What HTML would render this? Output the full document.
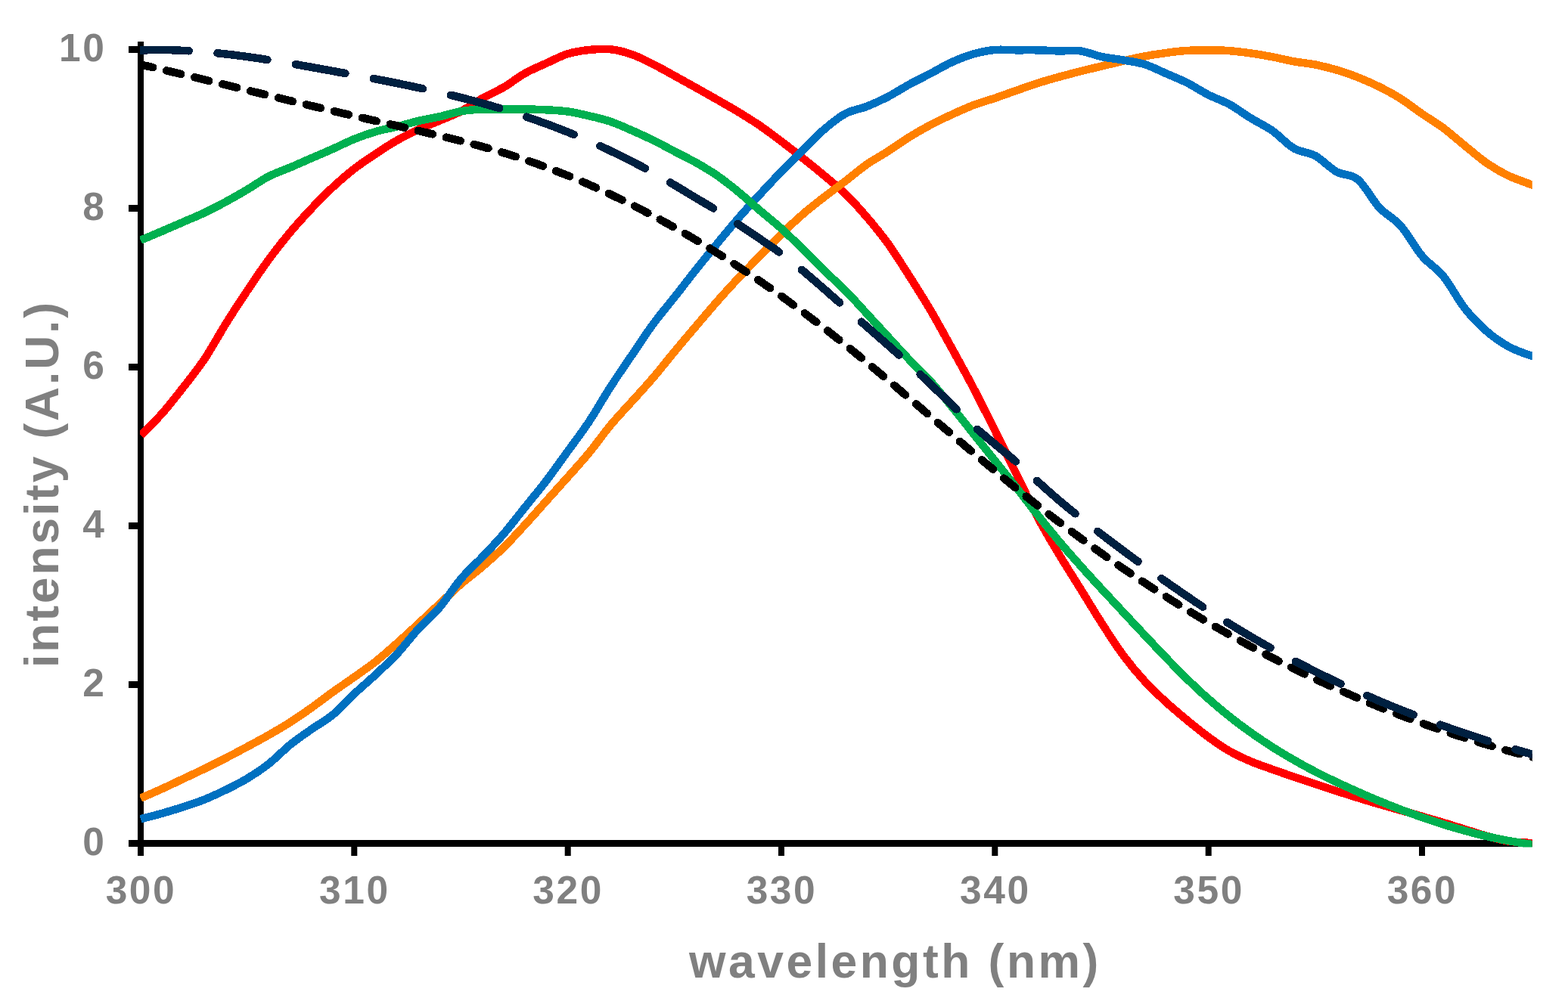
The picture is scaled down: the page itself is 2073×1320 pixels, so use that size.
<!DOCTYPE html>
<html lang="en">
<head>
<meta charset="utf-8">
<title>intensity (A.U.) vs wavelength (nm)</title>
<style>
html,body{margin:0;padding:0;background:#fff;}
body{width:2073px;height:1320px;overflow:hidden;}
svg{display:block;}
text{font-family:"Liberation Sans",sans-serif;font-weight:bold;fill:#808080;}
.tick{font-size:51.5px;letter-spacing:2.6px;}
.lab{font-size:62.4px;letter-spacing:3.5px;}
.c{fill:none;stroke-width:10.5;stroke-linejoin:round;stroke-linecap:butt;}
.d{stroke-linecap:round;}
</style>
</head>
<body>
<svg width="2073" height="1320" viewBox="0 0 2073 1320">
<defs><clipPath id="plot"><rect x="185.0" y="0" width="1840.75" height="1120.5"/></clipPath></defs>
<rect width="2073" height="1320" fill="#ffffff"/>

<g fill="#000000">
<rect x="182" y="55" width="8" height="1077"/>
<rect x="170" y="1111" width="1855.75" height="9"/>
<rect x="170" y="901.0" width="16" height="9"/>
<rect x="170" y="691.0" width="16" height="9"/>
<rect x="170" y="481.0" width="16" height="9"/>
<rect x="170" y="271.0" width="16" height="9"/>
<rect x="170" y="61.0" width="16" height="9"/>
<rect x="464.3" y="1115" width="8" height="17"/>
<rect x="746.7" y="1115" width="8" height="17"/>
<rect x="1029.0" y="1115" width="8" height="17"/>
<rect x="1311.3" y="1115" width="8" height="17"/>
<rect x="1593.7" y="1115" width="8" height="17"/>
<rect x="1876.0" y="1115" width="8" height="17"/>
</g>
<text class="tick" x="140.5" y="1130.5" text-anchor="end">0</text>
<text class="tick" x="140.5" y="920.5" text-anchor="end">2</text>
<text class="tick" x="140.5" y="710.5" text-anchor="end">4</text>
<text class="tick" x="140.5" y="500.5" text-anchor="end">6</text>
<text class="tick" x="140.5" y="290.5" text-anchor="end">8</text>
<text class="tick" x="140.5" y="80.5" text-anchor="end">10</text>
<text class="tick" x="186.5" y="1195" text-anchor="middle">300</text>
<text class="tick" x="468.8" y="1195" text-anchor="middle">310</text>
<text class="tick" x="751.2" y="1195" text-anchor="middle">320</text>
<text class="tick" x="1033.5" y="1195" text-anchor="middle">330</text>
<text class="tick" x="1315.8" y="1195" text-anchor="middle">340</text>
<text class="tick" x="1598.2" y="1195" text-anchor="middle">350</text>
<text class="tick" x="1880.5" y="1195" text-anchor="middle">360</text>
<text class="lab" x="1183.4" y="1293" text-anchor="middle">wavelength (nm)</text>
<text class="lab" style="letter-spacing:2.85px" transform="translate(77,640) rotate(-90)" text-anchor="middle">intensity (A.U.)</text>
<g clip-path="url(#plot)" shape-rendering="crispEdges">
<path class="c" stroke="#FF0000" d="M186.0,575.8 C190.7,571.0 204.8,557.6 214.2,547.0 C223.6,536.4 233.1,524.2 242.5,512.1 C251.9,500.0 261.3,488.5 270.7,474.4 C280.1,460.3 289.5,442.8 298.9,427.7 C308.3,412.6 317.8,398.1 327.2,384.0 C336.6,369.9 346.0,356.0 355.4,343.2 C364.8,330.4 374.2,318.6 383.6,307.3 C393.0,296.1 402.5,285.7 411.9,275.7 C421.3,265.7 430.7,256.2 440.1,247.5 C449.5,238.8 458.9,230.6 468.3,223.3 C477.7,216.0 487.2,209.8 496.6,203.5 C506.0,197.2 515.4,191.0 524.8,185.7 C534.2,180.4 543.6,175.9 553.0,171.5 C562.4,167.1 571.9,163.6 581.3,159.5 C590.7,155.4 600.1,152.1 609.5,147.2 C618.9,142.3 628.3,135.3 637.7,130.0 C647.1,124.7 656.6,120.9 666.0,115.4 C675.4,109.9 684.8,102.2 694.2,96.9 C703.6,91.6 713.0,87.9 722.4,83.6 C731.8,79.3 741.2,74.1 750.7,71.2 C760.1,68.3 769.5,67.0 778.9,66.0 C788.3,65.0 797.7,64.2 807.1,65.2 C816.5,66.2 825.9,68.7 835.4,72.0 C844.8,75.3 854.2,80.3 863.6,85.0 C873.0,89.7 882.4,95.1 891.8,100.3 C901.2,105.5 910.6,110.7 920.1,116.0 C929.5,121.3 938.9,126.5 948.3,131.9 C957.7,137.3 967.1,142.6 976.5,148.3 C985.9,154.0 995.3,159.9 1004.8,166.3 C1014.2,172.8 1023.6,179.9 1033.0,187.0 C1042.4,194.1 1051.8,201.5 1061.2,209.0 C1070.6,216.5 1080.0,224.1 1089.5,232.0 C1098.9,239.9 1108.3,247.3 1117.7,256.5 C1127.1,265.7 1136.5,276.0 1145.9,287.0 C1155.3,298.0 1164.7,309.4 1174.2,322.5 C1183.6,335.6 1193.0,350.8 1202.4,365.5 C1211.8,380.2 1221.2,395.0 1230.6,411.0 C1240.0,427.0 1249.4,444.4 1258.9,461.5 C1268.3,478.6 1277.7,495.5 1287.1,513.5 C1296.5,531.5 1305.9,550.5 1315.3,569.3 C1324.7,588.1 1334.1,607.4 1343.6,626.5 C1353.0,645.6 1362.4,666.2 1371.8,684.0 C1381.2,701.8 1390.6,717.2 1400.0,733.0 C1409.4,748.8 1418.8,763.3 1428.3,778.5 C1437.7,793.7 1447.1,809.5 1456.5,824.1 C1465.9,838.7 1475.3,853.5 1484.7,866.3 C1494.1,879.0 1503.5,890.3 1513.0,900.6 C1522.4,910.9 1531.8,919.6 1541.2,928.3 C1550.6,936.9 1560.0,944.7 1569.4,952.5 C1578.8,960.3 1588.2,968.0 1597.7,974.9 C1607.1,981.8 1616.5,988.3 1625.9,993.7 C1635.3,999.1 1644.7,1003.3 1654.1,1007.3 C1663.5,1011.3 1672.9,1014.3 1682.3,1017.7 C1691.8,1021.1 1701.2,1024.3 1710.6,1027.5 C1720.0,1030.7 1729.4,1033.9 1738.8,1037.0 C1748.2,1040.1 1757.6,1043.3 1767.0,1046.3 C1776.5,1049.3 1785.9,1052.3 1795.3,1055.2 C1804.7,1058.1 1814.1,1061.0 1823.5,1063.7 C1832.9,1066.5 1842.3,1069.0 1851.7,1071.7 C1861.2,1074.4 1870.6,1077.1 1880.0,1079.8 C1889.4,1082.5 1898.8,1085.2 1908.2,1088.0 C1917.6,1090.8 1927.0,1093.9 1936.4,1096.8 C1945.9,1099.7 1955.3,1103.0 1964.7,1105.6 C1974.1,1108.2 1983.5,1110.8 1992.9,1112.3 C2002.3,1113.8 2011.7,1114.5 2021.1,1114.8 C2030.6,1115.1 2044.7,1114.4 2049.4,1114.3"/>
<path class="c" stroke="#FF8000" d="M186.0,1055.7 C190.7,1053.6 204.8,1047.6 214.2,1043.3 C223.6,1039.0 233.1,1034.5 242.5,1030.0 C251.9,1025.5 261.3,1021.2 270.7,1016.6 C280.1,1012.0 289.5,1007.4 298.9,1002.5 C308.3,997.6 317.8,992.6 327.2,987.5 C336.6,982.4 346.0,977.5 355.4,972.1 C364.8,966.7 374.2,961.3 383.6,955.3 C393.0,949.3 402.5,942.7 411.9,936.0 C421.3,929.3 430.7,922.0 440.1,915.2 C449.5,908.5 458.9,902.2 468.3,895.5 C477.7,888.8 487.2,882.5 496.6,875.0 C506.0,867.5 515.4,859.1 524.8,850.8 C534.2,842.5 543.6,833.7 553.0,825.0 C562.4,816.3 571.9,807.2 581.3,798.5 C590.7,789.8 600.1,780.7 609.5,772.5 C618.9,764.3 628.3,757.6 637.7,749.5 C647.1,741.4 656.6,733.2 666.0,724.0 C675.4,714.8 684.8,704.2 694.2,694.0 C703.6,683.8 713.0,673.0 722.4,662.5 C731.8,652.0 741.2,641.6 750.7,631.0 C760.1,620.4 769.5,610.2 778.9,598.8 C788.3,587.4 797.7,573.8 807.1,562.5 C816.5,551.2 825.9,541.5 835.4,531.0 C844.8,520.5 854.2,510.5 863.6,499.5 C873.0,488.5 882.4,476.3 891.8,465.0 C901.2,453.7 910.6,442.6 920.1,431.5 C929.5,420.4 938.9,409.2 948.3,398.5 C957.7,387.8 967.1,377.5 976.5,367.5 C985.9,357.5 995.3,348.1 1004.8,338.5 C1014.2,328.9 1023.6,319.0 1033.0,309.8 C1042.4,300.6 1051.8,291.7 1061.2,283.5 C1070.6,275.3 1080.0,268.0 1089.5,260.7 C1098.9,253.4 1108.3,246.7 1117.7,239.5 C1127.1,232.3 1136.5,224.1 1145.9,217.5 C1155.3,210.9 1164.7,206.1 1174.2,200.0 C1183.6,193.9 1193.0,187.0 1202.4,181.2 C1211.8,175.4 1221.2,170.0 1230.6,165.0 C1240.0,160.0 1249.4,155.6 1258.9,151.3 C1268.3,147.0 1277.7,142.6 1287.1,139.0 C1296.5,135.4 1305.9,133.0 1315.3,129.8 C1324.7,126.6 1334.1,123.1 1343.6,119.8 C1353.0,116.5 1362.4,113.0 1371.8,110.0 C1381.2,107.0 1390.6,104.4 1400.0,101.8 C1409.4,99.2 1418.8,96.7 1428.3,94.3 C1437.7,91.9 1447.1,89.8 1456.5,87.5 C1465.9,85.2 1475.3,82.9 1484.7,80.7 C1494.1,78.5 1503.5,76.3 1513.0,74.5 C1522.4,72.7 1531.8,71.3 1541.2,70.0 C1550.6,68.7 1560.0,67.5 1569.4,66.9 C1578.8,66.3 1588.2,66.2 1597.7,66.3 C1607.1,66.3 1616.5,66.5 1625.9,67.2 C1635.3,67.9 1644.7,69.2 1654.1,70.5 C1663.5,71.8 1672.9,73.5 1682.3,75.3 C1691.8,77.1 1701.2,79.6 1710.6,81.3 C1720.0,83.0 1729.4,83.6 1738.8,85.5 C1748.2,87.4 1757.6,89.7 1767.0,92.5 C1776.5,95.3 1785.9,98.6 1795.3,102.3 C1804.7,106.0 1814.1,110.1 1823.5,114.8 C1832.9,119.5 1842.3,124.5 1851.7,130.5 C1861.2,136.4 1870.6,144.0 1880.0,150.5 C1889.4,157.0 1898.8,162.3 1908.2,169.3 C1917.6,176.3 1927.0,184.9 1936.4,192.5 C1945.9,200.1 1955.3,208.5 1964.7,215.1 C1974.1,221.7 1983.5,227.2 1992.9,231.8 C2002.3,236.4 2011.7,239.2 2021.1,242.9 C2030.6,246.6 2044.7,252.1 2049.4,253.9"/>
<path class="c" stroke="#0070C0" d="M186.0,1083.3 C190.7,1082.0 204.8,1078.5 214.2,1075.8 C223.6,1073.1 233.1,1070.3 242.5,1067.2 C251.9,1064.1 261.3,1061.1 270.7,1057.3 C280.1,1053.5 289.5,1049.1 298.9,1044.5 C308.3,1039.9 317.8,1035.2 327.2,1029.5 C336.6,1023.8 346.0,1017.6 355.4,1010.2 C364.8,1002.8 374.2,992.7 383.6,985.1 C393.0,977.5 402.5,971.1 411.9,964.5 C421.3,957.9 430.7,953.1 440.1,945.3 C449.5,937.5 458.9,926.6 468.3,917.8 C477.7,909.0 487.2,901.1 496.6,892.3 C506.0,883.5 515.4,875.0 524.8,865.0 C534.2,855.0 543.6,842.3 553.0,832.0 C562.4,821.7 571.9,814.4 581.3,803.3 C590.7,792.2 600.1,776.6 609.5,765.5 C618.9,754.4 628.3,746.6 637.7,736.7 C647.1,726.8 656.6,717.0 666.0,706.0 C675.4,695.0 684.8,682.5 694.2,670.8 C703.6,659.1 713.0,648.0 722.4,635.7 C731.8,623.4 741.2,609.8 750.7,596.8 C760.1,583.8 769.5,571.7 778.9,557.5 C788.3,543.3 797.7,526.4 807.1,511.8 C816.5,497.2 825.9,483.6 835.4,469.7 C844.8,455.8 854.2,441.3 863.6,428.5 C873.0,415.7 882.4,404.9 891.8,393.0 C901.2,381.1 910.6,368.6 920.1,356.8 C929.5,345.0 938.9,333.4 948.3,322.0 C957.7,310.6 967.1,299.1 976.5,288.3 C985.9,277.5 995.3,267.2 1004.8,257.0 C1014.2,246.8 1023.6,236.7 1033.0,227.0 C1042.4,217.3 1051.8,208.0 1061.2,198.7 C1070.6,189.4 1080.0,179.3 1089.5,171.2 C1098.9,163.1 1108.3,155.4 1117.7,150.3 C1127.1,145.2 1136.5,144.6 1145.9,140.8 C1155.3,137.1 1164.7,132.7 1174.2,127.8 C1183.6,122.9 1193.0,116.6 1202.4,111.5 C1211.8,106.4 1221.2,101.9 1230.6,97.0 C1240.0,92.1 1249.4,86.3 1258.9,82.0 C1268.3,77.7 1277.7,74.1 1287.1,71.4 C1296.5,68.7 1305.9,66.8 1315.3,66.0 C1324.7,65.2 1334.1,66.2 1343.6,66.3 C1353.0,66.3 1362.4,66.1 1371.8,66.3 C1381.2,66.5 1390.6,67.2 1400.0,67.4 C1409.4,67.6 1418.8,66.1 1428.3,67.4 C1437.7,68.7 1447.1,73.0 1456.5,75.0 C1465.9,77.0 1475.3,77.8 1484.7,79.5 C1494.1,81.2 1503.5,82.1 1513.0,85.0 C1522.4,87.9 1531.8,92.9 1541.2,97.0 C1550.6,101.1 1560.0,104.8 1569.4,109.5 C1578.8,114.2 1588.2,120.7 1597.7,125.5 C1607.1,130.3 1616.5,133.1 1625.9,138.3 C1635.3,143.5 1644.7,150.7 1654.1,156.5 C1663.5,162.3 1672.9,166.4 1682.3,173.0 C1691.8,179.6 1701.2,190.7 1710.6,196.2 C1720.0,201.7 1729.4,200.8 1738.8,206.0 C1748.2,211.2 1757.6,221.9 1767.0,227.2 C1776.5,232.4 1785.9,229.6 1795.3,237.5 C1804.7,245.4 1814.1,264.3 1823.5,274.5 C1832.9,284.7 1842.3,287.8 1851.7,298.5 C1861.2,309.2 1870.6,327.4 1880.0,338.5 C1889.4,349.6 1898.8,353.9 1908.2,365.4 C1917.6,376.9 1927.0,395.6 1936.4,407.6 C1945.9,419.6 1955.3,429.1 1964.7,437.4 C1974.1,445.7 1983.5,452.3 1992.9,457.6 C2002.3,462.9 2011.7,466.2 2021.1,469.4 C2030.6,472.5 2044.7,475.3 2049.4,476.5"/>
<path class="c" stroke="#00B050" d="M186.0,317.7 C190.7,315.7 204.8,309.8 214.2,305.8 C223.6,301.8 233.1,297.6 242.5,293.5 C251.9,289.4 261.3,285.7 270.7,281.2 C280.1,276.7 289.5,271.8 298.9,266.7 C308.3,261.6 317.8,256.1 327.2,250.5 C336.6,244.9 346.0,238.1 355.4,233.3 C364.8,228.5 374.2,225.5 383.6,221.5 C393.0,217.5 402.5,213.2 411.9,209.1 C421.3,205.0 430.7,201.1 440.1,196.9 C449.5,192.7 458.9,187.8 468.3,184.0 C477.7,180.2 487.2,176.8 496.6,174.1 C506.0,171.3 515.4,169.8 524.8,167.5 C534.2,165.2 543.6,162.2 553.0,160.0 C562.4,157.8 571.9,156.3 581.3,154.2 C590.7,152.1 600.1,148.8 609.5,147.2 C618.9,145.6 628.3,144.9 637.7,144.5 C647.1,144.1 656.6,144.5 666.0,144.5 C675.4,144.5 684.8,144.4 694.2,144.5 C703.6,144.6 713.0,144.8 722.4,145.3 C731.8,145.8 741.2,146.2 750.7,147.5 C760.1,148.8 769.5,151.1 778.9,153.3 C788.3,155.5 797.7,157.6 807.1,160.8 C816.5,164.0 825.9,168.4 835.4,172.5 C844.8,176.6 854.2,180.9 863.6,185.5 C873.0,190.1 882.4,195.4 891.8,200.3 C901.2,205.2 910.6,209.7 920.1,215.0 C929.5,220.3 938.9,225.8 948.3,232.3 C957.7,238.8 967.1,246.3 976.5,254.0 C985.9,261.7 995.3,270.4 1004.8,278.5 C1014.2,286.6 1023.6,293.8 1033.0,302.3 C1042.4,310.8 1051.8,320.1 1061.2,329.3 C1070.6,338.5 1080.0,348.5 1089.5,357.7 C1098.9,366.9 1108.3,374.8 1117.7,384.3 C1127.1,393.8 1136.5,404.5 1145.9,414.7 C1155.3,424.9 1164.7,435.3 1174.2,445.5 C1183.6,455.7 1193.0,466.1 1202.4,476.0 C1211.8,485.9 1221.2,494.2 1230.6,504.6 C1240.0,515.0 1249.4,527.1 1258.9,538.6 C1268.3,550.1 1277.7,562.1 1287.1,573.9 C1296.5,585.7 1305.9,597.4 1315.3,609.2 C1324.7,621.0 1334.1,632.6 1343.6,644.6 C1353.0,656.6 1362.4,669.4 1371.8,681.2 C1381.2,693.1 1390.6,704.6 1400.0,715.7 C1409.4,726.9 1418.8,737.5 1428.3,748.1 C1437.7,758.7 1447.1,768.9 1456.5,779.1 C1465.9,789.3 1475.3,799.3 1484.7,809.4 C1494.1,819.5 1503.5,829.7 1513.0,839.7 C1522.4,849.7 1531.8,859.8 1541.2,869.5 C1550.6,879.2 1560.0,889.0 1569.4,898.1 C1578.8,907.2 1588.2,916.1 1597.7,924.4 C1607.1,932.7 1616.5,940.6 1625.9,948.1 C1635.3,955.6 1644.7,962.5 1654.1,969.2 C1663.5,975.9 1672.9,982.2 1682.3,988.2 C1691.8,994.2 1701.2,999.8 1710.6,1005.2 C1720.0,1010.6 1729.4,1015.7 1738.8,1020.6 C1748.2,1025.5 1757.6,1030.0 1767.0,1034.5 C1776.5,1039.0 1785.9,1043.2 1795.3,1047.4 C1804.7,1051.6 1814.1,1055.6 1823.5,1059.5 C1832.9,1063.4 1842.3,1067.1 1851.7,1070.7 C1861.2,1074.3 1870.6,1077.7 1880.0,1081.0 C1889.4,1084.3 1898.8,1087.5 1908.2,1090.4 C1917.6,1093.4 1927.0,1096.1 1936.4,1098.7 C1945.9,1101.3 1955.3,1103.7 1964.7,1105.9 C1974.1,1108.1 1983.5,1110.0 1992.9,1111.8 C2002.3,1113.5 2011.7,1115.0 2021.1,1116.4 C2030.6,1117.8 2044.7,1119.7 2049.4,1120.3"/>
<path class="c d" stroke="#000000" stroke-dasharray="19.5 18.5" stroke-dashoffset="2.8" d="M186.0,85.4 C190.7,86.5 204.8,89.7 214.2,92.0 C223.6,94.2 233.1,96.4 242.5,98.7 C251.9,100.9 261.3,103.2 270.7,105.5 C280.1,107.8 289.5,110.1 298.9,112.4 C308.3,114.7 317.8,117.0 327.2,119.4 C336.6,121.7 346.0,124.0 355.4,126.3 C364.8,128.6 374.2,130.9 383.6,133.2 C393.0,135.5 402.5,137.8 411.9,140.0 C421.3,142.3 430.7,144.5 440.1,146.8 C449.5,149.0 458.9,151.2 468.3,153.4 C477.7,155.6 487.2,157.7 496.6,159.9 C506.0,162.1 515.4,164.3 524.8,166.4 C534.2,168.6 543.6,170.8 553.0,173.0 C562.4,175.2 571.9,177.3 581.3,179.6 C590.7,181.9 600.1,184.1 609.5,186.5 C618.9,188.9 628.3,191.4 637.7,194.0 C647.1,196.6 656.6,199.3 666.0,202.2 C675.4,205.0 684.8,208.1 694.2,211.3 C703.6,214.5 713.0,217.8 722.4,221.3 C731.8,224.8 741.2,228.5 750.7,232.3 C760.1,236.1 769.5,240.1 778.9,244.2 C788.3,248.4 797.7,252.6 807.1,257.1 C816.5,261.5 825.9,266.1 835.4,270.8 C844.8,275.6 854.2,280.4 863.6,285.5 C873.0,290.5 882.4,295.7 891.8,301.0 C901.2,306.3 910.6,311.8 920.1,317.4 C929.5,323.1 938.9,328.8 948.3,334.7 C957.7,340.6 967.1,346.7 976.5,352.9 C985.9,359.1 995.3,365.4 1004.8,371.9 C1014.2,378.3 1023.6,385.0 1033.0,391.7 C1042.4,398.5 1051.8,405.4 1061.2,412.4 C1070.6,419.4 1080.0,426.6 1089.5,433.9 C1098.9,441.2 1108.3,448.6 1117.7,456.2 C1127.1,463.7 1136.5,471.4 1145.9,479.2 C1155.3,487.0 1164.7,494.9 1174.2,502.9 C1183.6,510.8 1193.0,518.9 1202.4,526.9 C1211.8,534.9 1221.2,543.0 1230.6,551.1 C1240.0,559.1 1249.4,567.2 1258.9,575.2 C1268.3,583.3 1277.7,591.3 1287.1,599.2 C1296.5,607.1 1305.9,615.0 1315.3,622.8 C1324.7,630.6 1334.1,638.4 1343.6,646.0 C1353.0,653.6 1362.4,661.2 1371.8,668.6 C1381.2,676.0 1390.6,683.3 1400.0,690.4 C1409.4,697.6 1418.8,704.7 1428.3,711.6 C1437.7,718.5 1447.1,725.3 1456.5,732.0 C1465.9,738.7 1475.3,745.3 1484.7,751.7 C1494.1,758.2 1503.5,764.5 1513.0,770.7 C1522.4,776.9 1531.8,783.0 1541.2,789.0 C1550.6,795.0 1560.0,800.8 1569.4,806.6 C1578.8,812.4 1588.2,818.0 1597.7,823.5 C1607.1,829.0 1616.5,834.4 1625.9,839.7 C1635.3,845.0 1644.7,850.2 1654.1,855.3 C1663.5,860.4 1672.9,865.4 1682.3,870.2 C1691.8,875.1 1701.2,879.8 1710.6,884.5 C1720.0,889.1 1729.4,893.6 1738.8,898.1 C1748.2,902.5 1757.6,906.8 1767.0,911.0 C1776.5,915.2 1785.9,919.3 1795.3,923.3 C1804.7,927.4 1814.1,931.3 1823.5,935.1 C1832.9,938.9 1842.3,942.6 1851.7,946.2 C1861.2,949.8 1870.6,953.3 1880.0,956.7 C1889.4,960.1 1898.8,963.4 1908.2,966.6 C1917.6,969.8 1927.0,972.9 1936.4,975.9 C1945.9,978.9 1955.3,981.8 1964.7,984.6 C1974.1,987.4 1983.5,990.2 1992.9,992.8 C2002.3,995.4 2011.7,998.0 2021.1,1000.4 C2030.6,1002.8 2044.7,1006.3 2049.4,1007.5"/>
<path class="c d" stroke="#002040" stroke-dasharray="66.5 38" stroke-dashoffset="2.8" d="M186.0,66.4 C190.7,66.4 204.8,66.0 214.2,66.0 C223.6,66.1 233.1,66.4 242.5,66.9 C251.9,67.3 261.3,68.0 270.7,68.7 C280.1,69.5 289.5,70.5 298.9,71.5 C308.3,72.6 317.8,73.8 327.2,75.1 C336.6,76.4 346.0,77.8 355.4,79.3 C364.8,80.7 374.2,82.3 383.6,83.9 C393.0,85.5 402.5,87.2 411.9,88.9 C421.3,90.6 430.7,92.3 440.1,94.0 C449.5,95.7 458.9,97.5 468.3,99.2 C477.7,101.0 487.2,102.7 496.6,104.5 C506.0,106.4 515.4,108.2 524.8,110.1 C534.2,112.0 543.6,113.9 553.0,116.0 C562.4,118.0 571.9,120.1 581.3,122.3 C590.7,124.5 600.1,126.8 609.5,129.1 C618.9,131.5 628.3,134.0 637.7,136.6 C647.1,139.2 656.6,142.0 666.0,144.8 C675.4,147.7 684.8,150.7 694.2,153.9 C703.6,157.1 713.0,160.4 722.4,163.8 C731.8,167.3 741.2,170.9 750.7,174.7 C760.1,178.5 769.5,182.4 778.9,186.6 C788.3,190.7 797.7,195.0 807.1,199.5 C816.5,203.9 825.9,208.6 835.4,213.4 C844.8,218.3 854.2,223.3 863.6,228.5 C873.0,233.7 882.4,239.2 891.8,244.8 C901.2,250.3 910.6,256.2 920.1,261.8 C929.5,267.5 938.9,272.8 948.3,278.7 C957.7,284.5 967.1,290.7 976.5,296.9 C985.9,303.2 995.3,309.6 1004.8,316.0 C1014.2,322.5 1023.6,328.6 1033.0,335.6 C1042.4,342.6 1051.8,350.2 1061.2,357.9 C1070.6,365.7 1080.0,374.0 1089.5,382.2 C1098.9,390.4 1108.3,398.8 1117.7,407.1 C1127.1,415.4 1136.5,423.6 1145.9,431.9 C1155.3,440.2 1164.7,448.4 1174.2,456.7 C1183.6,465.1 1193.0,473.5 1202.4,482.1 C1211.8,490.7 1221.2,499.5 1230.6,508.5 C1240.0,517.4 1249.4,526.8 1258.9,535.9 C1268.3,545.0 1277.7,554.8 1287.1,563.3 C1296.5,571.9 1305.9,579.4 1315.3,587.4 C1324.7,595.3 1334.1,602.7 1343.6,610.9 C1353.0,619.2 1362.4,628.3 1371.8,636.7 C1381.2,645.2 1390.6,653.6 1400.0,661.6 C1409.4,669.6 1418.8,677.3 1428.3,684.9 C1437.7,692.4 1447.1,699.7 1456.5,706.9 C1465.9,714.1 1475.3,721.2 1484.7,728.2 C1494.1,735.2 1503.5,742.1 1513.0,748.9 C1522.4,755.8 1531.8,762.5 1541.2,769.2 C1550.6,775.8 1560.0,782.3 1569.4,788.7 C1578.8,795.1 1588.2,801.4 1597.7,807.5 C1607.1,813.6 1616.5,819.5 1625.9,825.3 C1635.3,831.1 1644.7,836.8 1654.1,842.3 C1663.5,847.8 1672.9,853.2 1682.3,858.4 C1691.8,863.6 1701.2,868.7 1710.6,873.7 C1720.0,878.6 1729.4,883.4 1738.8,888.1 C1748.2,892.8 1757.6,897.4 1767.0,901.8 C1776.5,906.3 1785.9,910.6 1795.3,914.8 C1804.7,919.0 1814.1,923.1 1823.5,927.1 C1832.9,931.1 1842.3,935.0 1851.7,938.7 C1861.2,942.5 1870.6,946.1 1880.0,949.7 C1889.4,953.3 1898.8,956.7 1908.2,960.1 C1917.6,963.5 1927.0,966.7 1936.4,969.9 C1945.9,973.1 1955.3,976.2 1964.7,979.2 C1974.1,982.3 1983.5,985.2 1992.9,988.0 C2002.3,990.9 2011.7,993.7 2021.1,996.4 C2030.6,999.1 2044.7,1003.0 2049.4,1004.3"/>
</g>
</svg>
</body>
</html>
